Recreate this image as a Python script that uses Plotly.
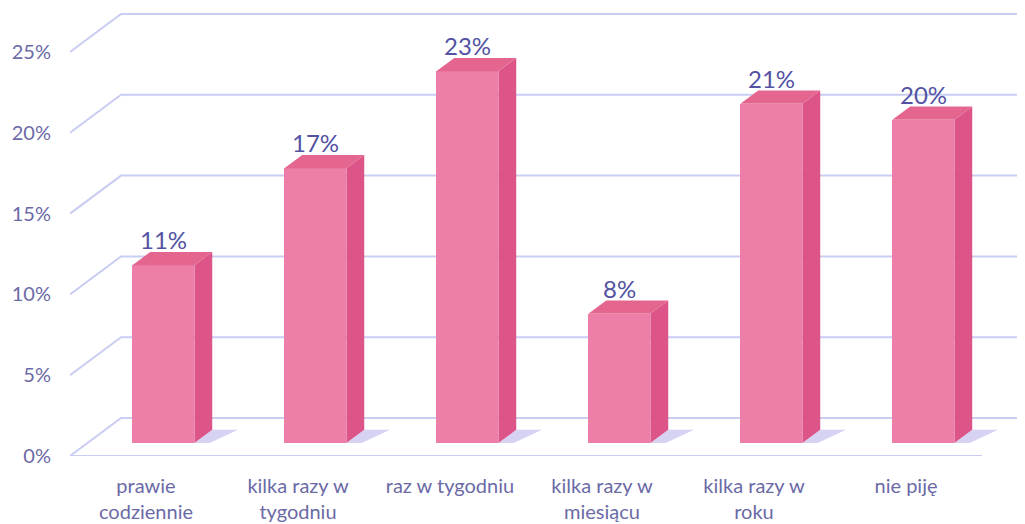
import plotly.graph_objects as go

categories = ["prawie<br>codziennie", "kilka razy w<br>tygodniu", "raz w tygodniu",
              "kilka razy w<br>miesiącu", "kilka razy w<br>roku", "nie piję"]
values = [11, 17, 23, 8, 21, 20]
y_ticks = [0, 5, 10, 15, 20, 25]
y_tick_labels = ["0%", "5%", "10%", "15%", "20%", "25%"]

# pseudo-3D geometry (in axis units)
DX, DY = 0.336, 2.35          # depth vector of the chart box
D0, D1 = 0.34, 0.69           # bar front / back depth fractions
BW = 0.408                    # bar width
X_LEFT, X_RIGHT, FLOOR_END = -0.5, 5.783, 5.5
Y_TOP = 27.72

FRONT = "#ec7ea8"
SIDE = "#dc5488"
TOP = "#e4668f"
GRID = "#c9cdf2"
TXT = "#6b6aa6"
LBL = "#5352a3"
FONT = "Lato, Noto Sans, sans-serif"

fig = go.Figure()
shapes = []

# back wall gridlines + slanted side lines (drawn below the bars)
for v in y_ticks:
    shapes.append(dict(type="path", layer="below", xref="x", yref="y",
                       path=f"M{X_LEFT},{v} L{X_LEFT + DX},{v + DY} L{X_RIGHT},{v + DY}",
                       line=dict(color=GRID, width=2)))
# floor front edge
shapes.append(dict(type="line", layer="below", xref="x", yref="y",
                   x0=X_LEFT, y0=0, x1=FLOOR_END, y1=0,
                   line=dict(color=GRID, width=2)))

xs = list(range(len(values)))
for i, v in zip(xs, values):
    cx = i + D0 * DX
    xl, xr = cx - BW / 2, cx + BW / 2
    yb = D0 * DY
    dxd, dyd = (D1 - D0) * DX, (D1 - D0) * DY
    # floor shadow
    shapes.append(dict(type="path", layer="below", xref="x", yref="y",
                       path=(f"M{xr},{yb} L{xr + dxd},{yb + dyd} "
                             f"L{xr + dxd + 0.17},{yb + dyd} L{xr + 0.10},{yb} Z"),
                       fillcolor="rgba(165,155,228,0.45)", line=dict(width=0)))
    # side face
    fig.add_trace(go.Scatter(
        x=[xr, xr + dxd, xr + dxd, xr, xr],
        y=[yb, yb + dyd, yb + v + dyd, yb + v, yb],
        fill="toself", fillcolor=SIDE, line=dict(width=0),
        mode="lines", hoverinfo="skip", showlegend=False))
    # top face
    fig.add_trace(go.Scatter(
        x=[xl, xl + dxd, xr + dxd, xr, xl],
        y=[yb + v, yb + v + dyd, yb + v + dyd, yb + v, yb + v],
        fill="toself", fillcolor=TOP, line=dict(width=0),
        mode="lines", hoverinfo="skip", showlegend=False))

# front faces
fig.add_trace(go.Bar(
    x=[i + D0 * DX for i in xs], y=values, base=[D0 * DY] * len(values),
    width=BW, marker=dict(color=FRONT, line=dict(width=0)),
    showlegend=False, hoverinfo="skip"))

for i, v in zip(xs, values):
    fig.add_annotation(
        x=i + D0 * DX, y=v + D0 * DY, text=f"{v}%", showarrow=False,
        yanchor="bottom", yshift=9,
        font=dict(size=24, color=LBL, family=FONT))

# the page body adds an 8px offset, so the figure is 8px smaller than the window
fig.update_layout(
    width=1017, height=516,
    margin=dict(l=62, r=0, t=0, b=68, autoexpand=False),
    paper_bgcolor="white", plot_bgcolor="white",
    bargap=0, shapes=shapes,
    xaxis=dict(range=[X_LEFT, X_RIGHT], tickvals=xs, ticktext=categories,
               showgrid=False, zeroline=False, showline=False, ticks="",
               automargin=False, ticklabelstandoff=16,
               tickfont=dict(size=20, color=TXT, family=FONT)),
    yaxis=dict(range=[0, Y_TOP], tickvals=y_ticks, ticktext=y_tick_labels,
               showgrid=False, zeroline=False, showline=False, ticks="",
               automargin=False, ticklabelstandoff=18,
               tickfont=dict(size=20, color=TXT, family=FONT)),
)

fig.write_html("out.html")
